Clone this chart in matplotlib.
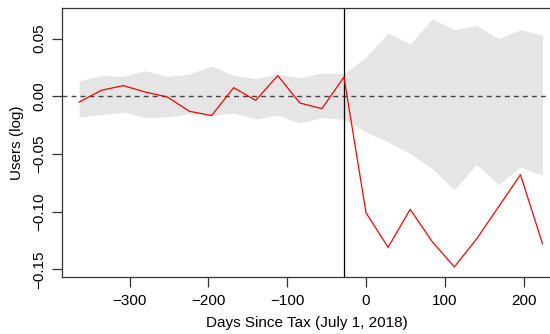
import matplotlib
matplotlib.use("Agg")
import matplotlib.pyplot as plt

plt.rcParams['font.family'] = ['Liberation Sans', 'DejaVu Sans']

# days since tax, every 4 weeks
days = [-364, -336, -308, -280, -252, -224, -196, -168, -140, -112, -84, -56, -28,
        0, 28, 56, 84, 112, 140, 168, 196, 224]
# estimated effect (log users)
est = [-0.005, 0.0052, 0.0093, 0.0037, -0.0006, -0.013, -0.0167, 0.0075, -0.0035, 0.018,
       -0.0058, -0.0107, 0.0167,
       -0.101, -0.131, -0.098, -0.126, -0.148, -0.124, -0.096, -0.068, -0.128]
# placebo band
band_hi = [0.0133, 0.018, 0.0173, 0.0222, 0.0173, 0.0193, 0.0263, 0.018, 0.0156, 0.019,
           0.0162, 0.0202, 0.0197,
           0.034, 0.055, 0.0453, 0.0673, 0.0578, 0.0615, 0.050, 0.0578, 0.0529]
band_lo = [-0.018, -0.016, -0.0136, -0.0185, -0.018, -0.015, -0.0165, -0.0145, -0.0197, -0.0165,
           -0.023, -0.0185, -0.020,
           -0.031, -0.0396, -0.0497, -0.0627, -0.081, -0.059, -0.0765, -0.0612, -0.0685]

fig = plt.figure(figsize=(5.5, 3.34), dpi=100)
ax = fig.add_axes([62/550, 1-277/334, 490/550, 269/334])

ax.fill_between(days, band_lo, band_hi, color='#e5e5e5', lw=0)
ax.axhline(0, color='#444444', ls=(0, (3.5, 3)), lw=1)
ax.axvline(-28, color='black', lw=0.9)
ax.plot(days, est, color='red', lw=0.9)

ax.set_xlim(-385.8, 236)
ax.set_ylim(-0.1567, 0.0766)
ax.set_xticks([-300, -200, -100, 0, 100, 200])
ax.set_xticklabels(['\u2212300', '\u2212200', '\u2212100', '0', '100', '200'])
ax.set_yticks([-0.15, -0.10, -0.05, 0.0, 0.05])
ax.set_yticklabels(['\u22120.15', '\u22120.10', '\u22120.05', '0.00', '0.05'],
                   rotation=90, va='center')
ax.tick_params(labelsize=11, length=7, width=0.9, color='#333333')
ax.tick_params(axis='x', pad=5)
ax.tick_params(axis='y', pad=4)
for s in ax.spines.values():
    s.set_color('#333333')
    s.set_linewidth(0.9)
ax.set_xlabel('Days Since Tax (July 1, 2018)', fontsize=11, labelpad=6)
ax.set_ylabel('Users (log)', fontsize=11, labelpad=6)

fig.savefig('out.png', dpi=100)
